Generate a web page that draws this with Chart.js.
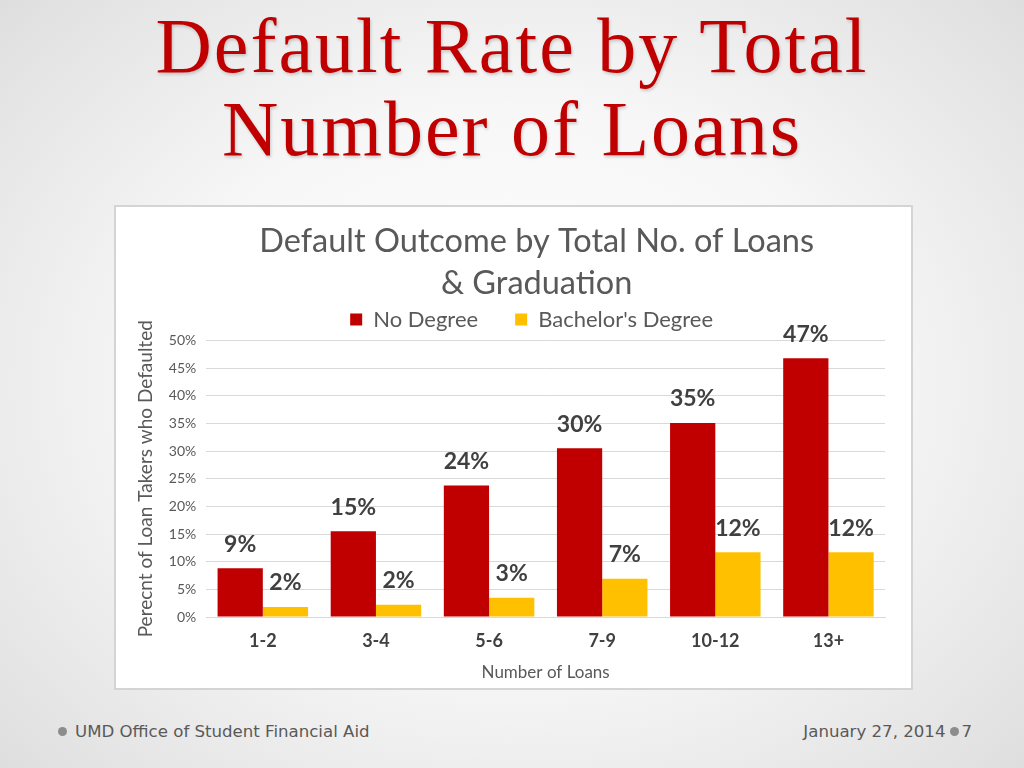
<!DOCTYPE html>
<html>
<head>
<meta charset="utf-8">
<script src="https://cdn.jsdelivr.net/npm/chart.js@4"></script>
<style>
  html, body { margin:0; padding:0; }
  body {
    width:1024px; height:768px; overflow:hidden; position:relative;
    background: radial-gradient(ellipse 75% 80% at 50% 50%, #ffffff 0%, #f7f7f7 45%, #e2e2e2 85%, #d8d8d8 100%);
    font-family: "Liberation Sans", sans-serif;
  }
  #title {
    position:absolute; left:0; top:4px; width:1024px; text-align:center;
    font-family:"Liberation Serif", serif; font-size:78px; line-height:83px; letter-spacing:2px;
    color:#C00000; text-shadow: 1px 2px 3px rgba(0,0,0,0.18);
  }
  #box {
    position:absolute; left:114px; top:205px; width:795px; height:481px;
    background:#ffffff; border:2px solid #d4d4d4;
  }
  #foot-l, #foot-r {
    position:absolute; top:722px; font-size:16.6px; color:#595959; font-family:"DejaVu Sans", sans-serif;
  }
  #foot-l { left:57px; }
  #foot-r { right:52px; }
  .dot { display:inline-block; width:9px; height:9px; border-radius:50%; background:#8c8c8c; vertical-align:middle; margin:0 4px 3px 1px; }
  #foot-l .dot { margin-right:8px; }
</style>
</head>
<body>
<div id="title">Default Rate by Total<br>Number of Loans</div>
<div id="box"><canvas id="c" width="795" height="481"></canvas></div>
<div id="foot-l"><span class="dot"></span>UMD Office of Student Financial Aid</div>
<div id="foot-r">January 27, 2014<span class="dot" style="margin-left:5px;margin-right:2px"></span>7</div>
<script>
const categories = ["1-2", "3-4", "5-6", "7-9", "10-12", "13+"];
const noDegree = [8.8, 15.5, 23.8, 30.5, 35.1, 46.8];
const bachelors = [1.8, 2.2, 3.5, 6.9, 11.7, 11.7];
const noDegreeLabels = ["9%", "15%", "24%", "30%", "35%", "47%"];
const bachelorsLabels = ["2%", "2%", "3%", "7%", "12%", "12%"];
const yTicks = [0, 5, 10, 15, 20, 25, 30, 35, 40, 45, 50];

const labelPlugin = {
  id: 'barLabels',
  afterDatasetsDraw(chart) {
    const ctx = chart.ctx;
    const sets = [noDegreeLabels, bachelorsLabels];
    ctx.save();
    ctx.font = 'bold 23px Lato, "Open Sans", sans-serif';
    ctx.fillStyle = '#404040';
    ctx.textAlign = 'center';
    ctx.textBaseline = 'middle';
    chart.data.datasets.forEach((ds, i) => {
      chart.getDatasetMeta(i).data.forEach((el, j) => {
        ctx.fillText(sets[i][j], el.x, el.y - 24);
      });
    });
    ctx.restore();
  }
};

// nudge title and legend slightly left of the plot-area centre, as in the original
const shiftPlugin = {
  id: 'shiftHeader',
  afterLayout(chart) {
    if (chart.titleBlock) { chart.titleBlock.left -= 9; chart.titleBlock.right -= 9; }
    if (chart.legend) { chart.legend.left -= 14; chart.legend.right -= 14; }
  }
};

new Chart(document.getElementById('c'), {
  type: 'bar',
  data: {
    labels: categories,
    datasets: [
      { label: 'No Degree', data: noDegree, backgroundColor: '#C00000' },
      { label: "Bachelor's Degree", data: bachelors, backgroundColor: '#FFC000' }
    ]
  },
  options: {
    responsive: false,
    animation: false,
    devicePixelRatio: 1,
    datasets: { bar: { categoryPercentage: 0.8, barPercentage: 1.0 } },
    layout: { padding: { left: 14, right: 26, top: 13, bottom: 0 } },
    plugins: {
      title: {
        display: true,
        fullSize: false,
        text: ['Default Outcome by Total No. of Loans', '& Graduation'],
        color: '#595959',
        font: { family: 'Lato, "Open Sans", sans-serif', size: 32.5, weight: 'normal', lineHeight: 1.3 },
        padding: { top: 0, bottom: 0 }
      },
      legend: {
        display: true,
        fullSize: false,
        labels: {
          color: '#595959',
          font: { family: 'Lato, "Open Sans", sans-serif', size: 22 },
          boxWidth: 12, boxHeight: 12, padding: 4,
          generateLabels(chart) {
            const items = Chart.defaults.plugins.legend.labels.generateLabels(chart);
            items[0].text = items[0].text + '\u2003\u2003';
            return items;
          }
        }
      },
      tooltip: { enabled: false }
    },
    scales: {
      x: {
        grid: { display: false },
        border: { color: '#d9d9d9' },
        ticks: { color: '#404040', font: { family: 'Lato, "Open Sans", sans-serif', size: 18, weight: 'bold' }, padding: 5 },
        title: { display: true, text: 'Number of Loans', color: '#595959',
                 font: { family: 'Lato, "Open Sans", sans-serif', size: 17 }, padding: { top: 6, bottom: 5 } }
      },
      y: {
        min: 0, max: 50,
        afterBuildTicks(axis) { axis.ticks = yTicks.map(v => ({ value: v })); },
        grid: { color: '#d9d9d9', drawTicks: false },
        border: { display: false },
        ticks: { color: '#595959', font: { family: 'Lato, "Open Sans", sans-serif', size: 14 }, padding: 10,
                 callback: v => v + '%' },
        title: { display: true, text: 'Perecnt of Loan Takers who Defaulted', color: '#595959',
                 font: { family: 'Lato, "Open Sans", sans-serif', size: 19 }, padding: { bottom: 2 } }
      }
    }
  },
  plugins: [labelPlugin, shiftPlugin]
});
</script>
</body>
</html>
